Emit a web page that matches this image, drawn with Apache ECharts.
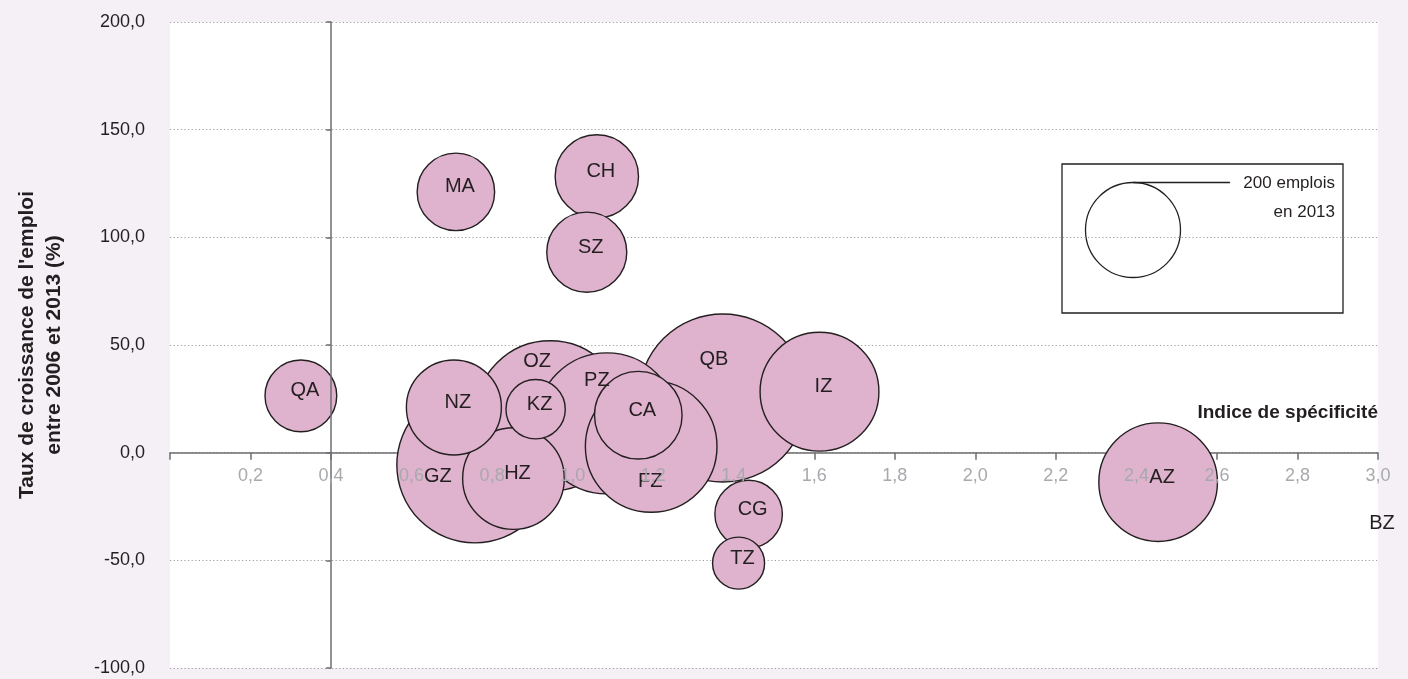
<!DOCTYPE html>
<html><head><meta charset="utf-8">
<script src="https://cdn.jsdelivr.net/npm/echarts@6.0.0/dist/echarts.min.js"></script>
<style>html,body{margin:0;padding:0;background:#f5f0f6}#c{width:1408px;height:679px}</style>
</head><body><div id="c"></div>
<script>
// ---- data ----
const zones   = ['QA','MA','CH','SZ','NZ','GZ','OZ','KZ','HZ','PZ','CA','FZ','QB','IZ','CG','TZ','AZ','BZ'];
const specIdx = [0.325,0.710,1.060,1.035,0.705,0.757,0.944,0.908,0.853,1.085,1.163,1.195,1.373,1.613,1.437,1.412,2.454,3.01];
const growth  = [26.4,121.1,128.3,93.1,21.0,-5.7,17.1,20.2,-12.0,13.6,17.4,2.9,25.4,28.3,-28.5,-51.3,-13.7,-32.7];
const jobs2013 = [114,133,154,142,200,539,499,78,229,441,170,384,626,313,101,60,312,0];
const refJobs = 200;
const xMin = 0, xMax = 3.0, xStep = 0.2;
const yMin = -100, yMax = 200, yStep = 50;
const yCross = 0.4;   // x value where the vertical axis line crosses
const xCross = 0;     // y value where the horizontal axis line crosses

// ---- layout / style ----
const W = 1408, H = 679;
const G = {left:170, right:30, top:22, bottom:11};
const gridW = W - G.left - G.right;
const gridH = H - G.top - G.bottom;
const REF_DIAM = 95;
const sizeOf = j => REF_DIAM * Math.sqrt(j / refJobs);
const labelNudge = {GZ:[-37,12], OZ:[-13,-54], PZ:[-10,-43], FZ:[-1,35], QB:[-9,-38], BZ:[0,0]};
const dflt = [4,-5];
const dark = '#231f20';
const fr = v => v.toFixed(1).replace('.', ',');
const xOffset = -(xCross - yMin) / (yMax - yMin) * gridH;

const order = zones.map((z,i)=>i).sort((a,b)=>jobs2013[b]-jobs2013[a]);
const data = order.map(i => ({
  name: zones[i],
  value: [specIdx[i], growth[i], jobs2013[i]],
  symbolSize: sizeOf(jobs2013[i]),
  label: {offset: labelNudge[zones[i]] || dflt}
}));

const chart = echarts.init(document.getElementById('c'), null, {renderer:'canvas'});
chart.setOption({
  backgroundColor: '#f5f0f6',
  animation: false,
  textStyle: {fontFamily: 'Liberation Sans, Arial, sans-serif'},
  grid: {left:G.left, right:G.right, top:G.top, bottom:G.bottom, show:true, backgroundColor:'#ffffff', borderWidth:0,
         containLabel:false, outerBoundsMode:'none'},
  xAxis: [{
    type:'value', min:xMin, max:xMax, interval:xStep, position:'bottom', offset:xOffset,
    axisLine:{show:true, onZero:false, lineStyle:{color:'#6d6e71', width:1.5}},
    axisTick:{show:true, length:7, lineStyle:{color:'#6d6e71', width:1.5}},
    axisLabel:{show:false},
    splitLine:{show:false}
  },{
    type:'value', min:xMin, max:xMax, interval:xStep, position:'bottom', offset:xOffset, z:10,
    axisLine:{show:false, onZero:false}, axisTick:{show:false},
    axisLabel:{color:'#a7a9ac', fontSize:18, margin:14, showMinLabel:false, formatter: v => fr(v)},
    splitLine:{show:false}
  }],
  yAxis: [{
    type:'value', min:yMin, max:yMax, interval:yStep,
    axisLine:{show:false}, axisTick:{show:false},
    axisLabel:{color:dark, fontSize:18, margin:25, formatter: v => fr(v)},
    splitLine:{show:true, lineStyle:{color:'#9d9d9d', type:[1.2,2.4], width:1}},
    name:"Taux de croissance de l'emploi\nentre 2006 et 2013 (%)",
    nameLocation:'middle', nameGap:102,
    nameTextStyle:{color:dark, fontSize:21, fontWeight:'bold', lineHeight:27, align:'center'}
  },{
    type:'value', min:yMin, max:yMax, interval:yStep, position:'left', z:10,
    offset: -(yCross - xMin) / (xMax - xMin) * gridW,
    axisLine:{show:true, onZero:false, lineStyle:{color:'#6d6e71', width:1.5}},
    axisTick:{show:true, length:5, lineStyle:{color:'#6d6e71', width:1.5}},
    axisLabel:{show:false}, splitLine:{show:false}
  }],
  series: [{
    type:'scatter', clip:false, xAxisIndex:0, yAxisIndex:0,
    data: data,
    itemStyle:{color:'#dfb2cd', borderColor:dark, borderWidth:1.4, opacity:1},
    label:{show:true, position:'inside', formatter:'{b}', color:dark, fontSize:20},
    emphasis:{disabled:true}
  }],
  graphic: [
    {type:'text', right: W - (G.left + gridW), top: 403,
     style:{text:'Indice de spécificité', fill:dark, font:'bold 19px Liberation Sans, Arial, sans-serif', textAlign:'right'}},
    {type:'rect', shape:{x:1062, y:164, width:281, height:149}, style:{fill:'#ffffff', stroke:dark, lineWidth:1.3}},
    {type:'circle', shape:{cx:1133, cy:230, r:REF_DIAM/2}, style:{fill:'#ffffff', stroke:dark, lineWidth:1.3}},
    {type:'line', shape:{x1:1133, y1:230-REF_DIAM/2, x2:1230, y2:230-REF_DIAM/2}, style:{stroke:dark, lineWidth:1.3}},
    {type:'text', x:1335, y:183, style:{text:'200 emplois', fill:dark, font:'17px Liberation Sans, Arial, sans-serif', textAlign:'right', textVerticalAlign:'middle'}},
    {type:'text', x:1335, y:212, style:{text:'en 2013', fill:dark, font:'17px Liberation Sans, Arial, sans-serif', textAlign:'right', textVerticalAlign:'middle'}}
  ]
});
</script></body></html>
